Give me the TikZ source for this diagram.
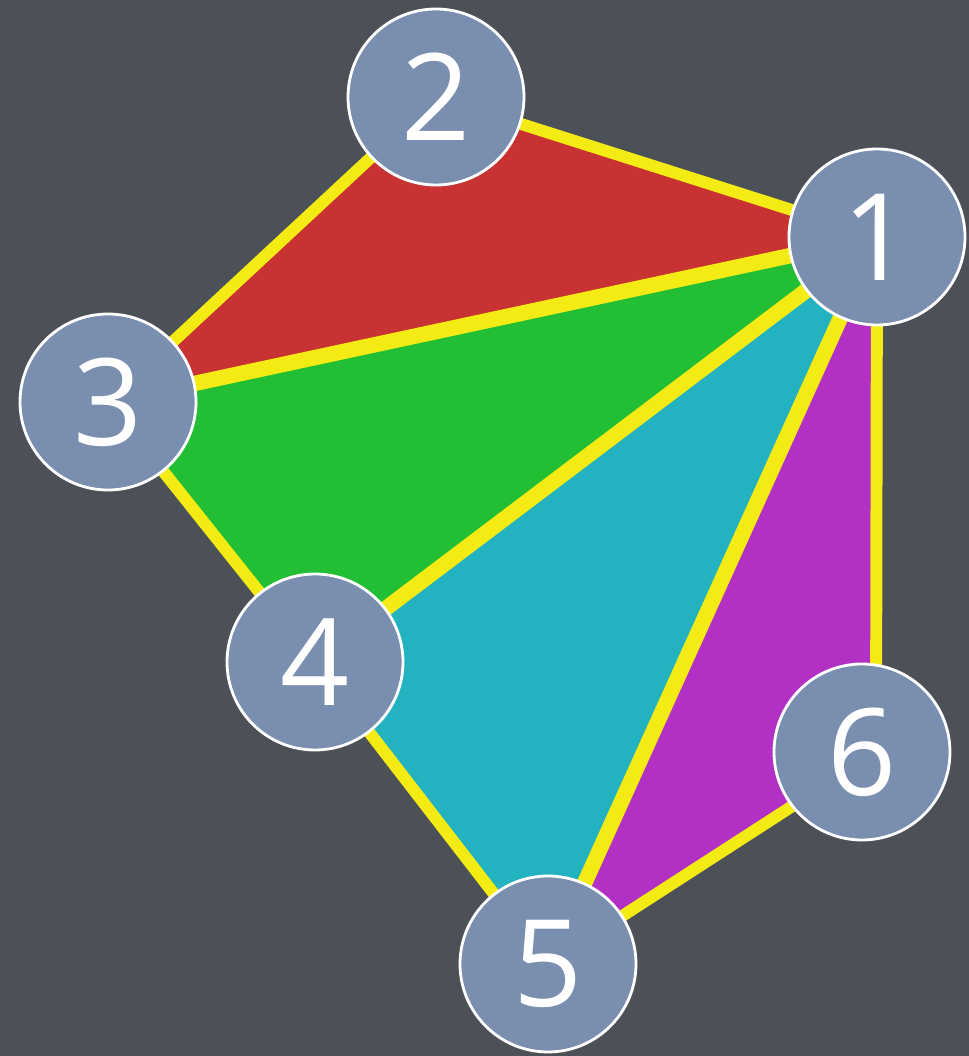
\documentclass[tikz,border=0pt]{standalone}
\usepackage{fontspec}
\setmainfont{Open Sans}
\definecolor{pizarra}{RGB}{76,80,87}
\definecolor{nodofondo}{RGB}{122,142,176}
\definecolor{rojo}{RGB}{200,50,50}
\definecolor{verde}{RGB}{34,190,52}
\definecolor{cian}{RGB}{34,178,192}
\definecolor{magenta}{RGB}{178,48,196}
\definecolor{amarillo}{RGB}{245,235,20}
\begin{document}
\begin{tikzpicture}[
        vertice/.style={
            circle,
            draw=white,
            line width=2pt,
            fill=nodofondo,
            minimum size=4.4cm,
            inner sep=0pt,
            text=white,
            font=\fontsize{86}{86}\selectfont
        },
        arista/.style={amarillo, line width=8.5pt},
        diagonal/.style={amarillo, line width=11pt}
    ]
        \useasboundingbox (0,0) rectangle (24.225,26.4);
        \fill[pizarra] (0,0) rectangle (24.225,26.4);

        \coordinate (p1) at (21.925,20.475);
        \coordinate (p2) at (10.9,23.975);
        \coordinate (p3) at (2.7,16.35);
        \coordinate (p4) at (7.875,9.85);
        \coordinate (p5) at (13.7,2.3);
        \coordinate (p6) at (21.9,7.6);

        % triangulos
        \fill[rojo] (p1) -- (p2) -- (p3) -- cycle;
        \fill[verde] (p1) -- (p3) -- (p4) -- cycle;
        \fill[cian] (p1) -- (p4) -- (p5) -- cycle;
        \fill[magenta] (p1) -- (p5) -- (p6) -- cycle;

        % aristas
        \draw[arista] (p1) -- (p2);
        \draw[arista] (p2) -- (p3);
        \draw[diagonal] (p3) -- (p1);
        \draw[arista] (p3) -- (p4);
        \draw[diagonal] (p4) -- (p1);
        \draw[arista] (p4) -- (p5);
        \draw[diagonal] (p5) -- (p1);
        \draw[arista] (p5) -- (p6);
        \draw[arista] (p6) -- (p1);

        \node[vertice] (v1) at (p1) {1};
        \node[vertice] (v2) at (p2) {2};
        \node[vertice] (v3) at (p3) {3};
        \node[vertice] (v4) at (p4) {4};
        \node[vertice] (v5) at (p5) {5};
        \node[vertice] (v6) at (21.55,7.6) {6};
    \end{tikzpicture}
\end{document}
